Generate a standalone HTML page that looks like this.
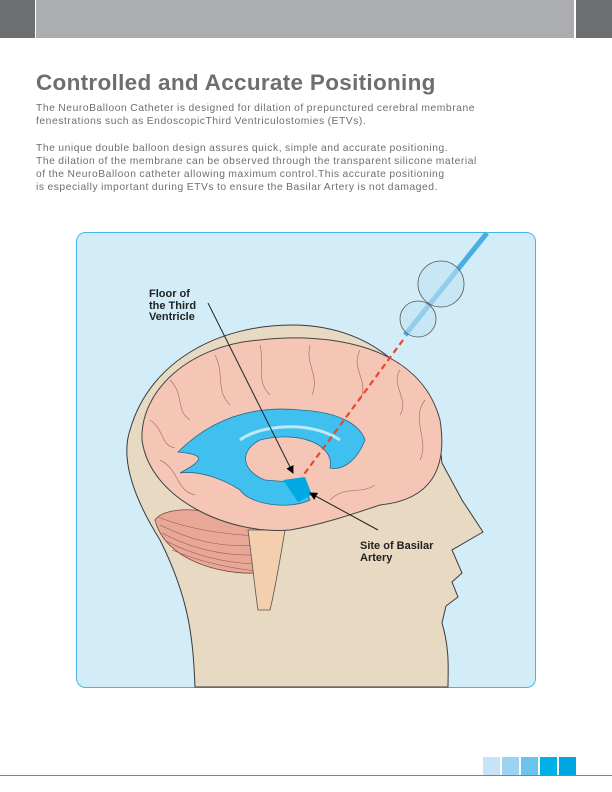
<!DOCTYPE html>
<html><head><meta charset="utf-8"><style>
body{margin:0;width:612px;height:792px;position:relative;background:#fff;font-family:"Liberation Sans",sans-serif;overflow:hidden}
.t{position:absolute;left:36px;top:70px;font-size:22.5px;font-weight:bold;color:#6d6e70;letter-spacing:0.3px;margin:0}
.p{position:absolute;left:36px;font-size:10.3px;color:#6d6e70;line-height:13px;margin:0;letter-spacing:0.55px;word-spacing:-0.5px}
</style></head><body>
<div style="position:absolute;left:0;top:0;width:35px;height:38px;background:#6d6e71"></div>
<div style="position:absolute;left:36px;top:0;width:538px;height:38px;background:#acadb0"></div>
<div style="position:absolute;left:576px;top:0;width:36px;height:38px;background:#6d6e71"></div>
<h1 class="t">Controlled and Accurate Positioning</h1>
<p class="p" style="top:102px">The NeuroBalloon Catheter is designed for dilation of prepunctured cerebral membrane<br>fenestrations such as EndoscopicThird Ventriculostomies (ETVs).</p>
<p class="p" style="top:142px">The unique double balloon design assures quick, simple and accurate positioning.<br>The dilation of the membrane can be observed through the transparent silicone material<br>of the NeuroBalloon catheter allowing maximum control.This accurate positioning<br>is especially important during ETVs to ensure the Basilar Artery is not damaged.</p>
<svg style="position:absolute;left:0;top:0" width="612" height="792">
<rect x="76.5" y="232.5" width="459" height="455" rx="9" fill="#d2edf8" stroke="#49b5e6" stroke-width="1"/>
<path d="M195,687 C193,640 190,600 160,540 C135,500 120,460 130,430 C150,360 220,325 292,325 C380,325 435,385 442,463 L462,500 L483,532 L452,550 L462,573 L452,582 L458,597 L446,606 L442,623 C450,650 448,670 448,687 Z" fill="#e8d9c3" stroke="#3a3a3a" stroke-width="1"/>
<path d="M155,520 C165,505 215,505 258,530 L258,573 C220,575 165,560 155,520Z" fill="#e8a898" stroke="#7a4a40" stroke-width="0.8"/>
<g stroke="#9a5a4a" stroke-width="0.6" fill="none"><path d="M160,525 C190,540 220,548 256,545"/><path d="M162,533 C190,548 220,556 256,555"/><path d="M166,541 C195,556 225,563 256,564"/><path d="M172,550 C200,562 230,568 256,571"/><path d="M158,517 C190,530 225,534 256,536"/></g>
<path d="M248,530 L285,530 C280,560 275,590 270,610 L258,610 C255,590 252,560 248,530 Z" fill="#f4cfae" stroke="#555" stroke-width="0.8"/>
<path d="M142,440 C140,390 190,345 260,340 C330,332 420,345 440,420 C448,470 430,500 380,505 C350,515 320,525 290,530 C230,535 150,500 142,440Z" fill="#f5c6b6" stroke="#444" stroke-width="1"/>
<g stroke="#b07068" stroke-width="0.7" fill="none"><path d="M170,380 C185,395 175,410 190,420"/><path d="M215,355 C225,375 215,390 230,405"/><path d="M260,345 C265,365 255,380 270,395"/><path d="M310,345 C305,365 320,375 312,395"/><path d="M360,350 C350,370 370,380 360,400"/><path d="M400,370 C390,385 410,400 400,415"/><path d="M425,400 C410,420 430,440 420,460"/><path d="M160,460 C180,470 175,490 195,495"/><path d="M330,500 C345,485 360,495 375,485"/><path d="M150,420 C165,430 160,445 175,448"/></g>
<path d="M178,452 C210,420 250,405 300,410 C340,412 360,425 365,440 C355,465 340,470 330,468 C335,445 300,430 260,440 C240,450 240,470 265,480 L290,482 L300,480 L310,500 C290,510 250,505 240,490 C225,480 200,470 180,473 C200,462 210,455 178,452Z" fill="#3fc0ef" stroke="#2a6b8a" stroke-width="0.8"/>
<path d="M240,440 C260,425 310,420 340,440" stroke="#bfe8f8" stroke-width="3" fill="none"/>
<path d="M283,480 L305,477 L312,495 L298,502Z" fill="#00a9e3"/>
<g stroke="#e8472e" stroke-width="2.2" stroke-dasharray="6,4"><line x1="403" y1="340" x2="302" y2="477"/></g>
<line x1="487" y1="233" x2="405" y2="335" stroke="#4aaee0" stroke-width="5"/>
<circle cx="441" cy="284" r="23" fill="#bfe3f3" fill-opacity=".6" stroke="#555" stroke-width="0.8"/>
<circle cx="418" cy="319" r="18" fill="#bfe3f3" fill-opacity=".6" stroke="#555" stroke-width="0.8"/>
<defs><marker id="a" markerWidth="8" markerHeight="8" refX="7" refY="4" orient="auto"><path d="M0,0 L8,4 L0,8Z" fill="#000"/></marker></defs>
<line x1="208" y1="303" x2="293" y2="473" stroke="#222" stroke-width="1" marker-end="url(#a)"/>
<line x1="378" y1="530" x2="310" y2="493" stroke="#222" stroke-width="1" marker-end="url(#a)"/>
<text font-family="Liberation Sans,sans-serif" font-size="11" font-weight="bold" fill="#222"><tspan x="149" y="297">Floor of</tspan><tspan x="149" y="309">the Third</tspan><tspan x="149" y="320">Ventricle</tspan><tspan x="360" y="549">Site of Basilar</tspan><tspan x="360" y="561">Artery</tspan></text>
<rect x="483" y="757" width="17" height="18" fill="#c9e3f6"/>
<rect x="502" y="757" width="17" height="18" fill="#9dd3f2"/>
<rect x="521" y="757" width="17" height="18" fill="#6bc3ee"/>
<rect x="540" y="757" width="17" height="18" fill="#00b1e8"/>
<rect x="559" y="757" width="17" height="18" fill="#00a6e2"/>
<line x1="0" y1="775.5" x2="612" y2="775.5" stroke="#2a9fd6" stroke-width="1"/>
</svg>
</body></html>
